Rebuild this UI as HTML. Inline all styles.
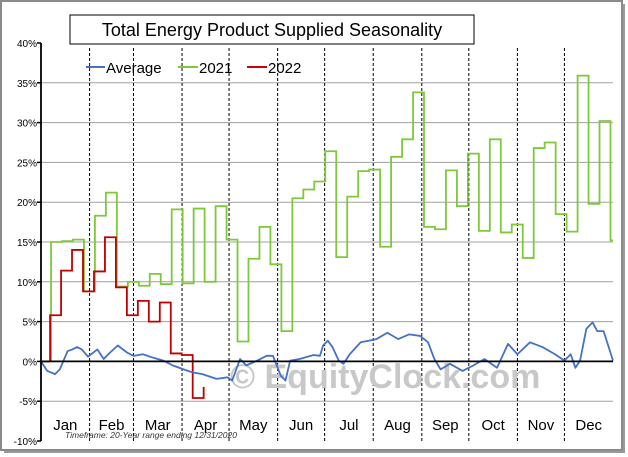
<!DOCTYPE html>
<html><head><meta charset="utf-8"><style>
html,body{margin:0;padding:0;background:#fff;width:628px;height:457px;overflow:hidden}
svg{display:block;font-family:"Liberation Sans","DejaVu Sans",sans-serif}
</style></head><body>
<svg id="chart" width="628" height="457" viewBox="0 0 628 457">
<rect x="4" y="4" width="621" height="449" fill="#9a9a9a"/>
<rect x="1" y="1" width="621" height="449" fill="#fff" stroke="#8a8a8a" stroke-width="2"/>
<g id="grid"></g>
<g id="dividers"></g>
<text x="230" y="388" font-size="34" font-weight="bold" fill="#c8c8c8">© EquityClock.com</text>
<g id="series"></g>
<g id="axes"></g>
<rect x="70" y="15" width="404" height="29" fill="#fff" stroke="#000" stroke-width="1"/>
<text x="272" y="36" font-size="18" text-anchor="middle" fill="#000">Total Energy Product Supplied Seasonality</text>
<g>
<line x1="86" y1="67" x2="105" y2="67" stroke="#4472c4" stroke-width="2"/>
<text x="106" y="73" font-size="15">Average</text>
<line x1="178" y1="67" x2="198" y2="67" stroke="#7dc93a" stroke-width="2"/>
<text x="199" y="73" font-size="15">2021</text>
<line x1="247" y1="67" x2="267" y2="67" stroke="#d00000" stroke-width="2"/>
<text x="268" y="73" font-size="15">2022</text>
</g>
<text x="65" y="438" font-size="8.5" font-style="italic" fill="#333">Timeframe: 20-Year range ending 12/31/2020</text>
</svg>
<script>
const yTicks=[40,35,30,25,20,15,10,5,0,-5,-10];
const months=["Jan","Feb","Mar","Apr","May","Jun","Jul","Aug","Sep","Oct","Nov","Dec"];
const monthDays=[31,28,31,30,31,30,31,31,30,31,30,31];
const v2021=[15.0,15.1,15.3,8.8,18.3,21.2,9.4,10.0,9.5,11.0,9.7,19.1,9.8,19.2,10.0,19.5,15.3,2.5,12.9,16.9,12.2,3.8,20.5,21.6,22.6,26.4,13.1,20.7,23.9,24.1,14.4,25.7,27.9,33.8,16.9,16.6,24.0,19.5,26.1,16.4,27.9,16.2,17.2,13.0,26.8,27.5,18.5,16.3,35.9,19.8,30.2,15.2];
const v2022=[5.8,11.4,14.0,8.8,11.3,15.6,9.3,5.8,7.6,5.0,7.4,1.0,0.8,-4.6];
const v2022Last=-3.2;
const avgDays=[0,4,9,12,17,20,23,26,30,36,40,44,49,55,59,65,71,78,84,91,97,103,112,119,122,127,131,138,144,148,153,156,159,165,174,178,180,183,186,190,193,197,204,209,214,221,228,235,242,247,251,255,261,269,276,283,291,298,304,312,320,328,334,338,341,344,348,352,355,359,365];
const avgVals=[0,-1.2,-1.6,-1.0,1.3,1.5,1.8,1.5,0.6,1.5,0.3,1.1,2.0,1.1,0.7,0.9,0.5,0.1,-0.5,-1.0,-1.4,-1.6,-2.2,-2.0,-2.4,0.3,-0.5,0.1,0.7,0.7,-1.8,-2.4,0.1,0.3,0.8,0.7,2.0,2.6,1.8,0.1,-0.3,0.9,2.4,2.6,2.8,3.6,2.8,3.4,3.2,2.4,0.3,-1.0,-0.3,-1.2,-0.5,0.3,-0.8,2.2,0.9,2.4,1.8,0.9,0.1,0.9,-0.8,0.1,4.1,4.9,3.8,3.8,0.1];
const X0=41,X1=613,Y40=43,Y_10=441;
const x=d=>X0+d*(X1-X0)/365;
const y=v=>Y40+(40-v)*(Y_10-Y40)/50;
const NS="http://www.w3.org/2000/svg";
function mk(tag,attrs,parent){const e=document.createElementNS(NS,tag);for(const k in attrs)e.setAttribute(k,attrs[k]);parent.appendChild(e);return e;}
const grid=document.getElementById('grid'),div=document.getElementById('dividers'),ser=document.getElementById('series'),ax=document.getElementById('axes');
yTicks.forEach(t=>{
 if(t!==0&&t!==-10&&t!==40){const g=mk('line',{x1:X0,x2:X1,y1:y(t),y2:y(t),stroke:'#a0a0a0','stroke-width':1},grid);
 
 }
 const tk=mk('line',{x1:X0-4,x2:X0,y1:y(t),y2:y(t),stroke:'#000','stroke-width':1.5},ax);
 
 
 const tx=mk('text',{x:X0-4,y:y(t)+4,'font-size':10,'text-anchor':'end',fill:'#000'},ax);
 tx.textContent=t+'%';
 
 
});
let cum=0;
months.forEach((m,i)=>{
 const s=cum;cum+=monthDays[i];
 if(i<11){const l=mk('line',{x1:x(cum),x2:x(cum),y1:48,y2:443,stroke:'#000','stroke-width':1,'stroke-dasharray':'3,2'},div);
 
 }
 const t=mk('text',{x:x((s+cum)/2),y:430,'font-size':15,'text-anchor':'middle',fill:'#000'},ax);
 t.textContent=m;
 
 
});
const zl=mk('line',{x1:X0,x2:X1,y1:y(0),y2:y(0),stroke:'#000','stroke-width':1.8},ax);


const ya=mk('line',{x1:X0,x2:X0,y1:Y40,y2:Y_10,stroke:'#000','stroke-width':1.8},ax);


const start=6.4;
let p='M'+x(0)+','+y(0)+' L'+x(start)+','+y(0);
v2021.forEach((v,i)=>{const a=start+7*i,b=Math.min(365,start+7*(i+1));p+=' L'+x(a)+','+y(v)+' L'+x(b)+','+y(v);});
const g1=mk('path',{d:p,fill:'none',stroke:'#7dc93a','stroke-width':1.8},ser);


const s2=5.8;
let p2='M'+x(0)+','+y(0)+' L'+x(s2)+','+y(0);
v2022.forEach((v,i)=>{const a=s2+7*i,b=s2+7*(i+1);p2+=' L'+x(a)+','+y(v)+' L'+x(b)+','+y(v);});
p2+=' L'+x(s2+7*v2022.length)+','+y(v2022Last);
const g2=mk('path',{d:p2,fill:'none',stroke:'#c00000','stroke-width':1.8},ser);


const p3=avgDays.map((d,i)=>(i?'L':'M')+x(d)+','+y(avgVals[i])).join(' ');
const g3=mk('path',{d:p3,fill:'none',stroke:'#4472c4','stroke-width':1.8,'stroke-linejoin':'round'},ser);


</script>
</body></html>
